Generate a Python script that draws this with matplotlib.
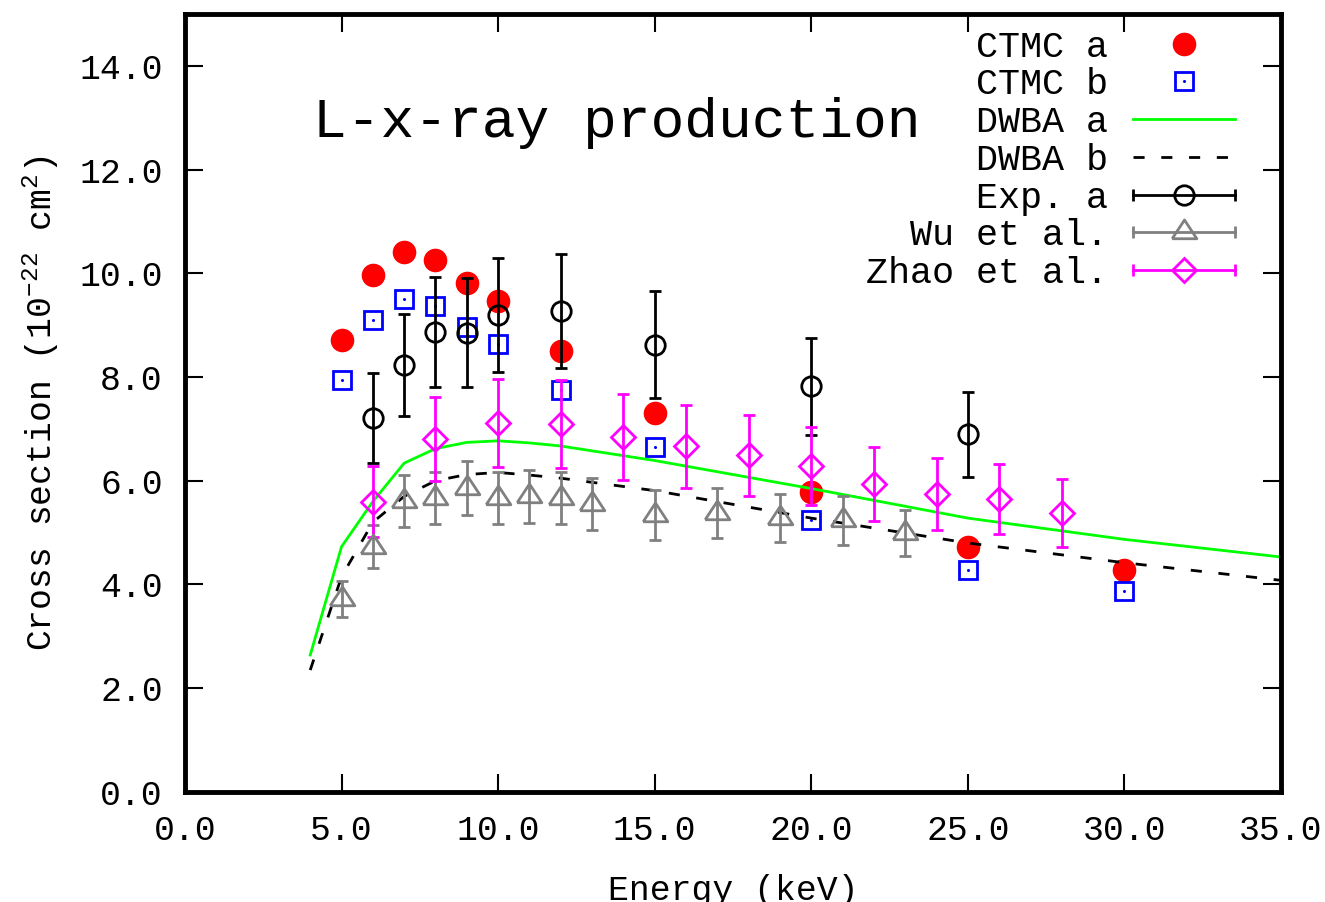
import matplotlib
matplotlib.use('Agg')
import matplotlib.pyplot as plt
from matplotlib.lines import Line2D
from matplotlib.legend_handler import HandlerLine2D, HandlerTuple

plt.rcParams['font.family'] = ['Liberation Mono', 'DejaVu Sans Mono']
plt.rcParams['mathtext.default'] = 'regular'

# ---------------- data ----------------
ctmc_x = [5, 6, 7, 8, 9, 10, 12, 15, 20, 25, 30]
ctmc_a_y = [8.72, 9.97, 10.41, 10.26, 9.81, 9.47, 8.50, 7.31, 5.78, 4.72, 4.28]
ctmc_b_y = [7.94, 9.10, 9.51, 9.37, 8.97, 8.64, 7.75, 6.65, 5.24, 4.28, 3.88]

dwba_x = [4, 5, 6, 7, 8, 9, 10, 11, 12, 15, 20, 25, 30, 35]
dwba_a_y = [2.64, 4.73, 5.60, 6.34, 6.62, 6.74, 6.77, 6.73, 6.67, 6.39, 5.85, 5.28, 4.87, 4.53]
dwba_b_y = [2.35, 4.15, 5.20, 5.70, 6.00, 6.12, 6.16, 6.11, 6.05, 5.81, 5.28, 4.80, 4.42, 4.08]

exp_x = [6, 7, 8, 9, 10, 12, 15, 20, 25]
exp_y = [7.21, 8.23, 8.87, 8.85, 9.20, 9.27, 8.62, 7.82, 6.90]
exp_err = [0.86, 0.98, 1.06, 1.05, 1.10, 1.10, 1.03, 0.94, 0.82]

wu_x = [5, 6, 7, 8, 9, 10, 11, 12, 13, 15, 17, 19, 21, 23]
wu_y = [3.72, 4.73, 5.61, 5.67, 5.86, 5.66, 5.70, 5.66, 5.55, 5.34, 5.38, 5.28, 5.24, 4.99]
wu_err = [0.34, 0.42, 0.50, 0.50, 0.52, 0.50, 0.51, 0.50, 0.50, 0.48, 0.48, 0.47, 0.47, 0.45]

zhao_x = [6, 8, 10, 12, 14, 16, 18, 20, 22, 24, 26, 28]
zhao_y = [5.60, 6.81, 7.12, 7.10, 6.85, 6.67, 6.49, 6.29, 5.94, 5.74, 5.65, 5.38]
zhao_err = [0.68, 0.81, 0.85, 0.85, 0.83, 0.80, 0.78, 0.75, 0.71, 0.69, 0.68, 0.65]

labels = ['CTMC a', 'CTMC b', 'DWBA a', 'DWBA b', 'Exp. a', 'Wu et al.', 'Zhao et al.']
xticks = [0, 5, 10, 15, 20, 25, 30, 35]
yticks = [0, 2, 4, 6, 8, 10, 12, 14]

# ---------------- styles ----------------
RED = '#ff0000'
BLUE = '#0000ff'
GREEN = '#00ff00'
GRAY = '#808080'
MAG = '#ff00ff'
FS = 25
LFS = 26.5
tri = [(-1, -0.507), (1, -0.507), (0, 1.013), (-1, -0.507)]

fig = plt.figure(figsize=(13.25, 9.02), dpi=100)
ax = fig.add_axes([0.1396, 0.1220, 0.8272, 0.8625])

h_a, = ax.plot(ctmc_x, ctmc_a_y, 'o', color=RED, ms=17, mew=0)
h_b, = ax.plot(ctmc_x, ctmc_b_y, 's', color=BLUE, mfc='none', ms=13, mew=2)
h_bd, = ax.plot(ctmc_x, ctmc_b_y, 'o', color=BLUE, ms=2.2, mew=0)
h_da, = ax.plot(dwba_x, dwba_a_y, '-', color=GREEN, lw=2)
h_db, = ax.plot(dwba_x, dwba_b_y, '--', color='black', lw=2, dashes=(4, 6))

eb_kw = dict(elinewidth=2, capsize=4, capthick=2, mew=2, mfc='none', ls='none')
ax.errorbar(exp_x, exp_y, yerr=exp_err, marker='o', ms=14, color='black', **eb_kw)
ax.errorbar(wu_x, wu_y, yerr=wu_err, marker=tri, ms=18, color=GRAY, **eb_kw)
ax.errorbar(zhao_x, zhao_y, yerr=zhao_err, marker='D', ms=12, color=MAG, **eb_kw)

ax.set_xlim(0, 35)
ax.set_ylim(0, 15)
ax.set_xticks(xticks)
ax.set_yticks(yticks)
ax.set_xticklabels(['%.1f' % v for v in xticks])
ax.set_yticklabels(['%.1f' % v for v in yticks])
ax.tick_params(direction='in', length=13, width=1.5, top=True, right=True,
               labelsize=FS, pad=16)
for s in ax.spines.values():
    s.set_linewidth(3.5)

ax.set_xlabel('Energy (keV)', fontsize=FS, labelpad=19)
ax.set_ylabel('Cross section (10$^{-22}$ cm$^{2}$)', fontsize=FS, labelpad=13)

ax.text(0.117, 0.860, 'L-x-ray production', transform=ax.transAxes,
        fontsize=40.5, ha='left', va='center')

# ---------------- legend (gnuplot-like) ----------------
def eb_handle(color, marker, ms):
    caps = Line2D([], [], color=color, lw=2, marker='|', ms=8, mew=2)
    mk = Line2D([], [], color=color, ls='none', marker=marker, ms=ms, mew=2, mfc='none')
    return (caps, mk), caps

hmap = {tuple: HandlerTuple(ndivide=1)}
handles = [h_a, (h_b, h_bd), h_da, h_db]
for col, mkr, ms in [('black', 'o', 14), (GRAY, tri, 18), (MAG, 'D', 12)]:
    hd, caps = eb_handle(col, mkr, ms)
    hmap[caps] = HandlerLine2D(numpoints=2, marker_pad=0)
    handles.append(hd)

# markerfirst=False right-aligns the entries (text, then symbol), as in gnuplot
leg = ax.legend(handles, labels, handler_map=hmap,
                loc='upper right', bbox_to_anchor=(0.958, 0.980),
                frameon=False, fontsize=LFS, markerfirst=False, numpoints=1,
                handlelength=2.77, handletextpad=0.68, labelspacing=0.075,
                borderpad=0, borderaxespad=0)

fig.savefig('out.png', dpi=100)
